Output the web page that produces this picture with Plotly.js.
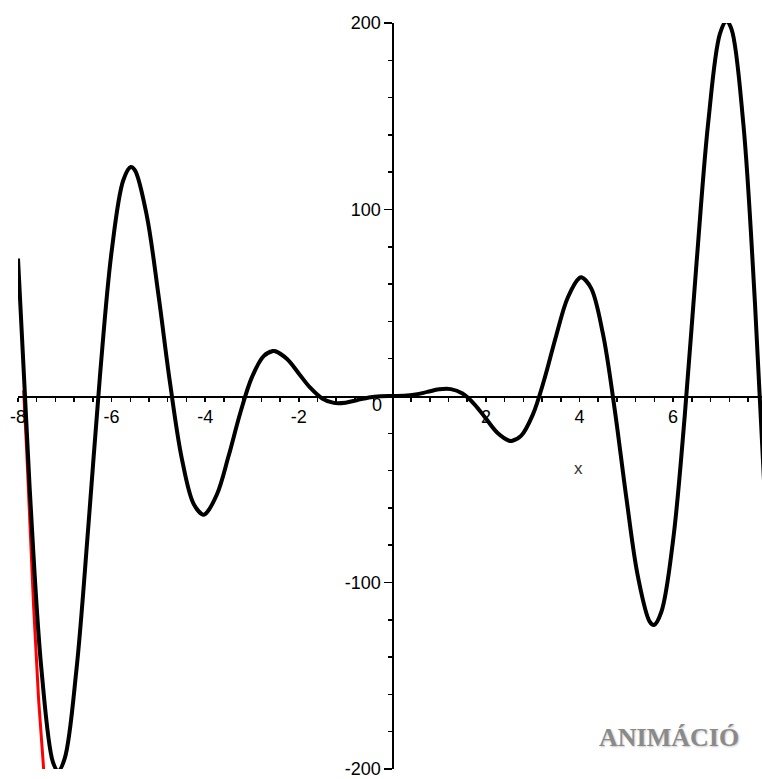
<!DOCTYPE html>
<html>
<head>
<meta charset="utf-8">
<script src="https://cdn.plot.ly/plotly-3.0.1.min.js"></script>
<style>html,body{margin:0;padding:0;background:#fff;}#plot{width:762px;height:779px;}</style>
</head>
<body>
<div id="plot"></div>
<script>
// Curve readings (x, y) from the picture
const curveX = [-8, -7.75, -7.5, -7.25, -7.14, -7, -6.75, -6.5, -6.25, -6, -5.75, -5.59, -5.5, -5.25, -5, -4.75, -4.5, -4.25, -4.05, -4, -3.75, -3.5, -3.25, -3, -2.75, -2.55, -2.5, -2.25, -2, -1.75, -1.5, -1.25, -1, -0.75, -0.5, -0.25,
  0, 0.25, 0.5, 0.75, 1, 1.25, 1.5, 1.75, 2, 2.25, 2.5, 2.55, 2.75, 3, 3.25, 3.5, 3.75, 4, 4.05, 4.25, 4.5, 4.75, 5, 5.25, 5.5, 5.59, 5.75, 6, 6.25, 6.5, 6.75, 7, 7.14, 7.25, 7.5, 7.75, 8];
const curveY = [73.7, -49.6, -146.3, -196.6, -201, -194.2, -146.5, -71.0, 10.3, 77.3, 115.7, 122.8, 121, 97.0, 54.4, 6.8, -33.4, -57.7, -63.6, -63.3, -52.8, -32.2, -9.1, 10.1, 21.4, 24.1, 24.0, 19.8, 12.1, 4.3, -1.3, -3.7, -3.6, -2.2, -0.8, -0.1,
  0, 0.1, 0.8, 2.2, 3.6, 3.7, 1.3, -4.3, -12.1, -19.8, -24.0, -24.1, -21.4, -10.1, 9.1, 32.2, 52.8, 63.3, 63.6, 57.7, 33.4, -6.8, -54.4, -97.0, -121, -122.8, -115.7, -77.3, -10.3, 71.0, 146.5, 194.2, 201, 196.6, 146.3, 49.6, -73.7];

// Red segment readings near the left edge
const redX = [-7.88, -7.815, -7.666, -7.559, -7.452, -7.42];
const redY = [3, -29, -113, -163, -200, -215];

// Tick labels
const xTickVals = [-8, -6, -4, -2, 0, 2, 4, 6];
const xTickText = ['-8', '-6', '-4', '-2', '', '2', '4', '6'];
const yTickVals = [-200, -100, 100, 200];
const yTickText = ['-200', '-100', '100', '200'];

const traces = [
  {x: redX, y: redY, mode: 'lines', line: {color: '#ff0000', width: 3}, hoverinfo: 'skip'},
  {x: curveX, y: curveY, mode: 'lines', line: {color: '#000000', width: 4, shape: 'spline', smoothing: 1}, hoverinfo: 'skip'}
];

const tickFont = {family: 'Liberation Sans, Arial, sans-serif', size: 18, color: '#000'};

const layout = {
  width: 762, height: 779,
  margin: {l: 18, r: 0, t: 23, b: 10},
  paper_bgcolor: '#ffffff', plot_bgcolor: '#ffffff',
  showlegend: false,
  xaxis: {
    range: [-8, 7.9], anchor: 'free', position: 0.5,
    showgrid: false, zeroline: false, showline: true, linecolor: '#000', linewidth: 1.5,
    ticks: 'outside', ticklen: 4, tickwidth: 1.5, tickcolor: '#000',
    tickmode: 'array', tickvals: xTickVals, ticktext: xTickText,
    minor: {dtick: 0.4, tick0: 0, ticks: 'outside', ticklen: 4, tickwidth: 1.5, tickcolor: '#000', showgrid: false},
    tickfont: tickFont, ticklabeloverflow: 'allow', fixedrange: true
  },
  yaxis: {
    range: [-200, 200], anchor: 'free', position: 8 / 15.9,
    showgrid: false, zeroline: false, showline: true, linecolor: '#000', linewidth: 1.5,
    ticks: 'outside', ticklen: 8, tickwidth: 1.5, tickcolor: '#000',
    tickmode: 'array', tickvals: yTickVals, ticktext: yTickText,
    minor: {dtick: 20, tick0: 0, ticks: 'outside', ticklen: 4, tickwidth: 1.5, tickcolor: '#000', showgrid: false},
    tickfont: tickFont, ticklabeloverflow: 'allow', fixedrange: true
  },
  annotations: [
    {x: -0.32, y: -4.9, xref: 'x', yref: 'y', text: '0', showarrow: false, font: tickFont, xanchor: 'center', yanchor: 'middle'},
    {x: 3.97, y: -39, xref: 'x', yref: 'y', text: 'x', showarrow: false, font: {family: 'Liberation Sans, Arial, sans-serif', size: 17, color: '#333'}, xanchor: 'center', yanchor: 'middle'},
    {x: 5.92, y: -182.9, xref: 'x', yref: 'y', text: 'ANIMÁCIÓ', showarrow: false,
     font: {family: 'Liberation Serif, Times New Roman, serif', size: 26, color: '#8a8a8a', weight: 'bold', shadow: '1px 1px 2px #c8c8c8'},
     xanchor: 'center', yanchor: 'middle'}
  ]
};

Plotly.newPlot('plot', traces, layout, {staticPlot: true, displayModeBar: false});
</script>
</body>
</html>
